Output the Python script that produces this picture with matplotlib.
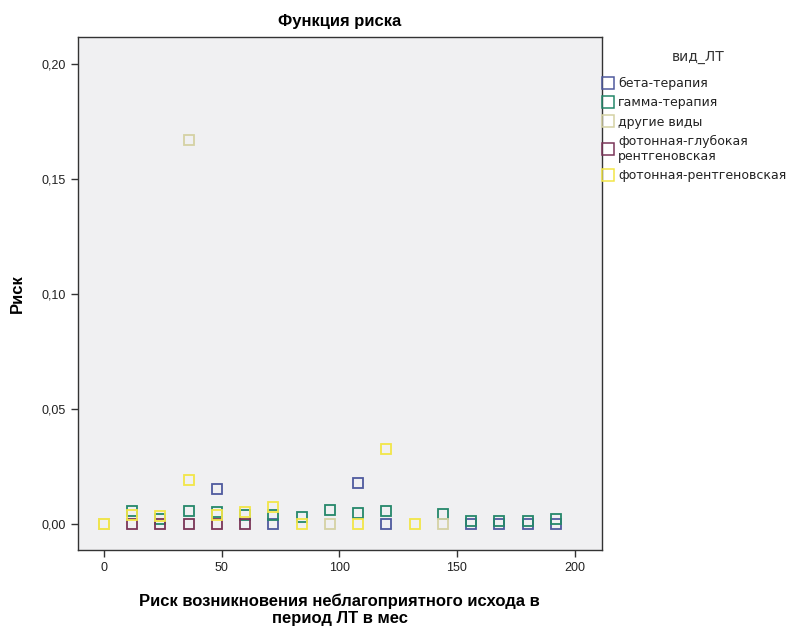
import matplotlib
matplotlib.use("Agg")
import matplotlib.pyplot as plt
from matplotlib.lines import Line2D
from matplotlib.ticker import FuncFormatter

plt.rcParams["font.family"] = ["Liberation Sans", "DejaVu Sans"]

# месяцы наблюдения и функция риска по видам ЛТ
beta_x = [48, 72, 108, 120, 156, 168, 180, 192]
beta_y = [0.0150, 0.0, 0.0178, 0.0, 0.0, 0.0, 0.0, 0.0]

gamma_x = [12, 24, 36, 48, 60, 72, 84, 96, 108, 120, 144, 156, 168, 180, 192]
gamma_y = [0.0055, 0.0020, 0.0056, 0.0053, 0.0038, 0.0038, 0.0030, 0.0060,
           0.0047, 0.0056, 0.0043, 0.0015, 0.0015, 0.0015, 0.0022]

other_x = [0, 36, 96, 144]
other_y = [0.0, 0.1667, 0.0, 0.0]

deep_x = [12, 24, 36, 48, 60]
deep_y = [0.0, 0.0, 0.0, 0.0, 0.0]

xray_x = [0, 12, 24, 36, 48, 60, 72, 84, 108, 120, 132]
xray_y = [0.0, 0.0040, 0.0035, 0.0193, 0.0040, 0.0053, 0.0072, 0.0, 0.0,
          0.0326, 0.0]

groups = ["бета-терапия", "гамма-терапия", "другие виды",
          "фотонная-глубокая\nрентгеновская", "фотонная-рентгеновская"]
colors = ["#4F5A9E", "#25876A", "#D5D2A4", "#7A3558", "#F2E648"]
series = [(beta_x, beta_y), (gamma_x, gamma_y), (other_x, other_y),
          (deep_x, deep_y), (xray_x, xray_y)]

fig = plt.figure(figsize=(7.9, 6.28), dpi=100)
ax = fig.add_axes([0.0987, 0.1242, 0.663, 0.817])
ax.set_facecolor("#F0F0F2")

for (xs, ys), c in zip(series, colors):
    ax.plot(xs, ys, linestyle="none", marker="s", markersize=6.5,
            markerfacecolor="none", markeredgecolor=c, markeredgewidth=1.3)

ax.set_xlim(-11, 211.5)
ax.set_ylim(-0.0113, 0.2117)
ax.set_xticks([0, 50, 100, 150, 200])
ax.set_yticks([0.0, 0.05, 0.10, 0.15, 0.20])
ax.yaxis.set_major_formatter(FuncFormatter(lambda v, p: f"{v:.2f}".replace(".", ",")))
ax.tick_params(direction="out", length=5, width=1, colors="#333333",
               labelsize=9, labelcolor="#222222")
for s in ax.spines.values():
    s.set_color("#333333")
    s.set_linewidth(1)

ax.set_title("Функция риска", fontsize=12, fontweight="bold", pad=8)
ax.set_ylabel("Риск", fontsize=12, fontweight="bold", labelpad=12)
ax.set_xlabel("Риск возникновения неблагоприятного исхода в\nпериод ЛТ в мес",
              fontsize=12, fontweight="bold", labelpad=14)

# легенда справа от области построения
handles = [Line2D([], [], linestyle="none", marker="s", markersize=9,
                  markerfacecolor="none", markeredgecolor=c, markeredgewidth=1.1)
           for c in colors]
fig.text(698 / 790, 1 - 57 / 628, "вид_ЛТ", ha="center", va="center",
         fontsize=10, family="DejaVu Sans", color="#333333")
leg = fig.legend(handles, groups, loc="upper left",
                 bbox_to_anchor=(602 / 790, 1 - 77 / 628), frameon=False,
                 prop={"family": "DejaVu Sans", "size": 9},
                 handlelength=1.0, handletextpad=0.3, labelspacing=0.5,
                 borderaxespad=0, borderpad=0)
for t in leg.get_texts():
    t.set_color("#222222")

fig.savefig("out.png", dpi=100)
